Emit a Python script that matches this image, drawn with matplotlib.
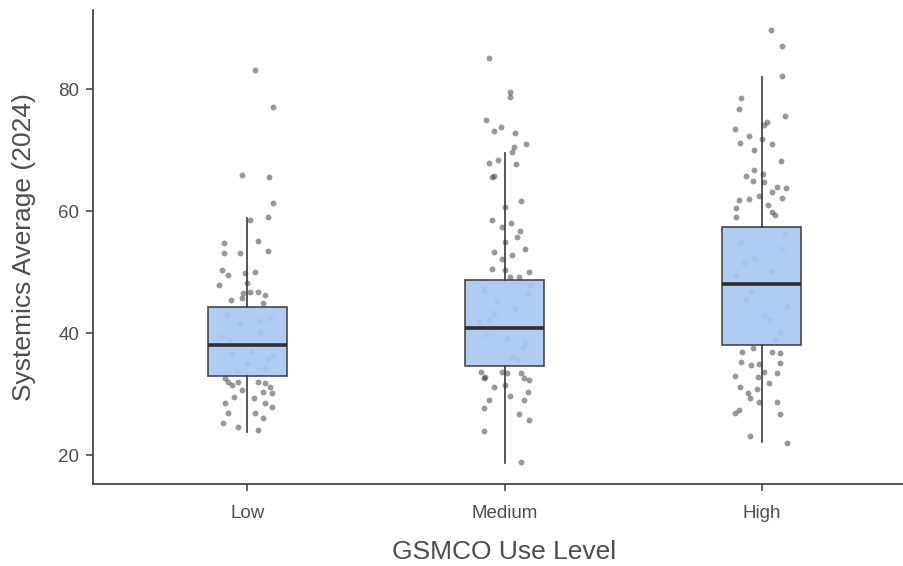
import matplotlib
matplotlib.use("Agg")
import matplotlib.pyplot as plt

plt.rcParams['font.family'] = ['Liberation Sans', 'DejaVu Sans']

categories = ["Low", "Medium", "High"]

# box statistics
q1 = [33.0, 34.6, 38.0]
med = [38.0, 40.8, 48.0]
q3 = [44.3, 48.7, 57.4]
wlo = [23.8, 18.7, 22.1]
whi = [58.9, 69.5, 82.0]

# jittered points: (horizontal offset, value)
low_off = [0.03, 0.10, -0.02, 0.085, 0.10, 0.08, 0.01, 0.04, -0.09, -0.09, -0.03, 0.08,
           -0.10, -0.075, -0.01, 0.03, -0.11, 0.0, -0.015, 0.01, 0.04, 0.07, -0.065, -0.02, 0.06,
           -0.085, -0.075, -0.06, -0.035, 0.04, 0.07, 0.09, -0.02, 0.06, 0.095, -0.05, 0.025,
           -0.085, 0.07, 0.095, -0.075, 0.03, 0.06, -0.095, -0.035, 0.04,
           -0.08, -0.03, 0.05, 0.09, -0.06, 0.0, 0.07, -0.1, 0.02, 0.08, -0.04, 0.05, -0.07, 0.1]
low_val = [83.1, 77.0, 65.9, 65.6, 61.3, 59.0, 58.5, 55.1, 54.8, 53.1, 53.1, 53.4,
           50.3, 49.5, 49.8, 50.0, 47.9, 48.2, 46.6, 46.7, 46.7, 46.2, 45.4, 45.7, 44.9,
           32.6, 32.0, 31.5, 32.0, 32.0, 31.8, 31.1, 30.7, 30.3, 30.2, 29.5, 29.3,
           28.5, 28.5, 27.9, 26.9, 26.9, 26.1, 25.2, 24.6, 24.1,
           43.0, 41.5, 40.2, 42.5, 36.5, 35.0, 34.2, 39.3, 37.1, 35.8, 33.8, 42.0, 38.8, 36.2]

med_off = [-0.06, 0.02, 0.02, -0.07, -0.015, -0.04, 0.04, 0.085, 0.035, 0.03, -0.06, -0.025,
           0.045, -0.05, -0.04, 0.065, 0.0, -0.05, 0.025, -0.01, 0.06, 0.05, 0.0, -0.04, 0.03,
           0.08, -0.01, -0.05, 0.0, 0.095, 0.02, 0.055,
           -0.09, -0.08, -0.075, -0.01, 0.01, 0.065, 0.075, 0.095, -0.04, 0.0, 0.09, 0.02,
           -0.06, 0.075, -0.08, 0.055, 0.095, -0.08, 0.065,
           -0.08, -0.03, 0.04, 0.09, -0.06, 0.01, 0.07, -0.1, 0.03, 0.08, -0.04, 0.05, -0.07, 0.1]
med_val = [85.1, 79.5, 78.7, 74.9, 73.8, 73.1, 72.8, 71.0, 70.5, 69.7, 67.9, 68.4,
           67.7, 65.6, 65.7, 61.6, 60.7, 58.5, 58.0, 57.4, 56.7, 55.7, 54.9, 53.3, 52.8,
           53.8, 52.1, 50.5, 50.3, 50.0, 49.2, 49.2,
           33.6, 32.6, 32.8, 33.6, 33.4, 33.4, 32.6, 32.3, 31.1, 31.5, 30.3, 29.7,
           29.0, 29.0, 27.7, 26.7, 25.7, 23.9, 18.8,
           47.0, 45.2, 44.0, 46.5, 42.1, 39.2, 37.5, 41.8, 36.1, 38.3, 43.3, 35.5, 39.9, 47.8]

high_off = [0.035, 0.08, 0.08, -0.08, -0.09, 0.09, 0.02, 0.01, -0.105, -0.05, 0.0, -0.085,
            0.04, -0.03, 0.075, -0.03, 0.005, -0.06, -0.035, 0.01, 0.06, 0.095, 0.04, -0.01,
            0.08, -0.05, -0.09, -0.10, 0.025, 0.04, -0.10, 0.05,
            -0.075, -0.035, 0.04, 0.07, -0.08, -0.04, -0.01, 0.07, 0.01, 0.06, -0.105, -0.015,
            0.03, -0.085, -0.02, -0.055, -0.045, -0.01, 0.06, -0.09, -0.105, 0.07, -0.045, 0.1,
            -0.08, -0.03, 0.04, 0.09, -0.06, 0.01, 0.07, -0.1, 0.03, 0.08, -0.04, 0.05, -0.07, 0.1]
high_val = [89.7, 87.0, 82.1, 78.5, 76.7, 75.6, 74.6, 74.1, 73.4, 72.3, 71.8, 71.1,
            71.0, 70.0, 68.2, 66.7, 66.1, 65.7, 64.9, 64.8, 63.9, 63.8, 63.1, 62.5,
            62.1, 62.0, 61.8, 60.5, 61.0, 59.8, 59.0, 59.3,
            36.9, 37.5, 36.9, 36.7, 35.2, 34.8, 35.0, 35.1, 33.6, 33.4, 32.95, 32.8,
            31.8, 31.1, 30.9, 30.2, 29.3, 28.7, 28.7, 27.4, 26.9, 26.7, 23.1, 22.0,
            55.0, 52.3, 50.1, 56.2, 45.5, 43.0, 40.1, 49.5, 42.2, 53.8, 46.8, 39.0, 51.5, 44.4]

fig = plt.figure(figsize=(9.04, 5.66), dpi=100)
ax = fig.add_axes([93/904, (566-484)/566, (916-93)/904, (484-10)/566])

groups = [(low_off, low_val), (med_off, med_val), (high_off, high_val)]
for i, (offs, vals) in enumerate(groups):
    xs = [i + 1 + o for o in offs]
    ax.scatter(xs, vals, s=18, color='#1e1e1e', alpha=0.45, linewidths=0, zorder=1)

stats = []
for i, c in enumerate(categories):
    stats.append(dict(label=c, q1=q1[i], med=med[i], q3=q3[i], whislo=wlo[i], whishi=whi[i], fliers=[]))

ax.bxp(stats, positions=[1, 2, 3], widths=0.305, patch_artist=True, showcaps=False,
       boxprops=dict(facecolor='#a9c8f2', edgecolor='#3a3a3a', linewidth=1.2, alpha=0.92),
       medianprops=dict(color='#2f2f2f', linewidth=2.6),
       whiskerprops=dict(color='#3a3a3a', linewidth=1.2),
       manage_ticks=False, zorder=2)

ax.set_xlim(0.4, 3.6)
ax.set_ylim(15.25, 92.95)
ax.set_xticks([1, 2, 3])
ax.set_xticklabels(categories)
ax.set_yticks([20, 40, 60, 80])

for s in ['top', 'right']:
    ax.spines[s].set_visible(False)
for s in ['left', 'bottom']:
    ax.spines[s].set_color('#3a3a3a')
    ax.spines[s].set_linewidth(1.2)

ax.tick_params(axis='both', colors='#3a3a3a', length=5, width=1.1, labelsize=13.5, labelcolor='#4d4d4d')
ax.tick_params(axis='x', pad=10)
ax.tick_params(axis='y', pad=5)
ax.set_xlabel('GSMCO Use Level', fontsize=19, color='#4d4d4d', labelpad=13)
ax.set_ylabel('Systemics Average (2024)', fontsize=19, color='#4d4d4d', labelpad=16)

fig.savefig('out.png', dpi=100)
